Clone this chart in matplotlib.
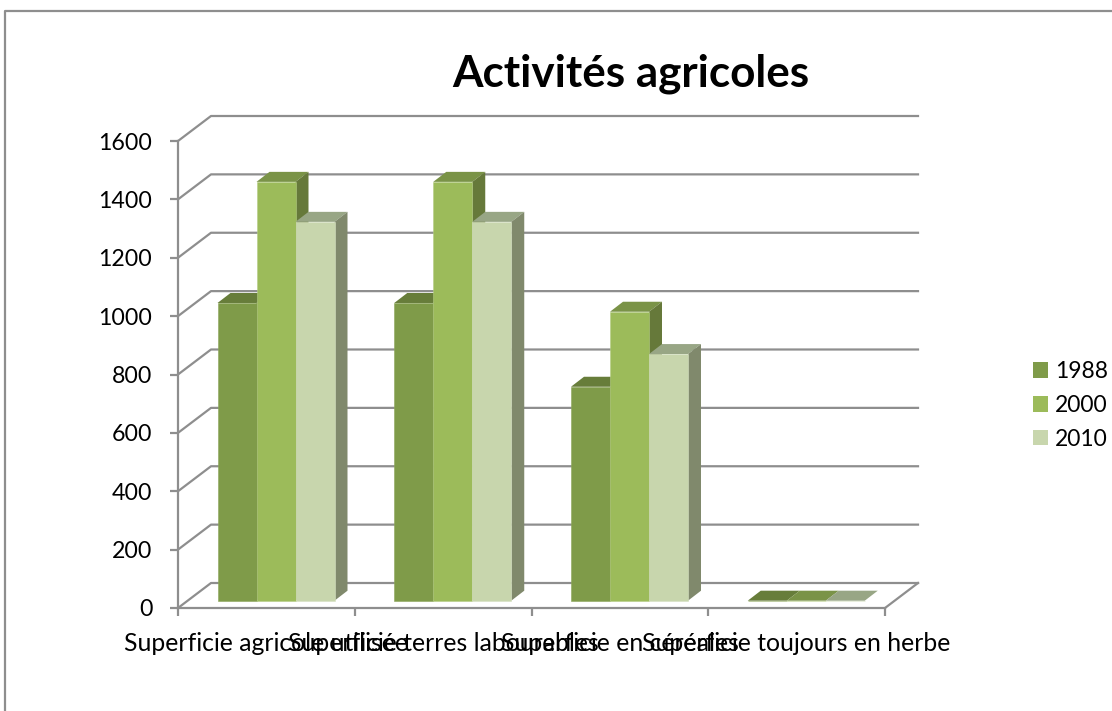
import matplotlib.pyplot as plt
from matplotlib.patches import Patch, Polygon

categories = ["Superficie agricole utilisée", "Superficie terres labourables",
              "Superficie en céréales", "Superficie toujours en herbe"]
years = ["1988", "2000", "2010"]
v1988 = [1020, 1020, 733, 0]
v2000 = [1435, 1435, 990, 0]
v2010 = [1298, 1298, 845, 0]
yticks = [0, 200, 400, 600, 800, 1000, 1200, 1400, 1600]

front = ["#7F9B49", "#9CBB5A", "#C8D6AD"]
front_edge = ["#8CA65A", "#B4CC84", "#D6E1C2"]
top = ["#677D3A", "#7A9347", "#98A685"]
side = ["#657A39", "#66793A", "#80896C"]
grid = "#8E8E8E"

plt.rcParams["font.family"] = ["Lato", "DejaVu Sans"]

W, H = 1112, 711
fig = plt.figure(figsize=(W / 100, H / 100), dpi=100)

# axes = front plane of the fake 3D box, in pixels
left, right, ytop, ybot = 178, 885, 141, 608
ax = fig.add_axes([left / W, 1 - ybot / H, (right - left) / W, (ybot - ytop) / H])
ax.set_xlim(0, 4)
ax.set_ylim(0, 1600)
ax.patch.set_visible(False)

# pixel -> data
px = 4 / (right - left)
py = 1600 / (ybot - ytop)
wall_dx, wall_dy = 33 * px, 25 * py
bar_dx, bar_dy = 13 * px, 10 * py
base_dy = 7.3 * py
bar_w = 39 * px
bar_x0 = (217.5 - left) * px

# walls
for v in yticks:
    ax.plot([0, wall_dx, 4 + wall_dx], [v, v + wall_dy, v + wall_dy],
            color=grid, lw=1.6, clip_on=False, zorder=1)
ax.plot([4, 4 + wall_dx], [0, wall_dy], color=grid, lw=1.6, clip_on=False, zorder=1)

# bars, left to right so that each one covers the side of the previous
z = 3
for g in range(len(categories)):
    for s, vals in enumerate([v1988, v2000, v2010]):
        x = g + bar_x0 + s * bar_w
        y0 = base_dy
        y1 = base_dy + vals[g]
        ax.add_patch(Polygon([(x, y1), (x + bar_dx, y1 + bar_dy),
                              (x + bar_w + bar_dx, y1 + bar_dy), (x + bar_w, y1)],
                             facecolor=top[s], edgecolor="none", clip_on=False, zorder=z))
        ax.add_patch(Polygon([(x + bar_w, y0), (x + bar_w + bar_dx, y0 + bar_dy),
                              (x + bar_w + bar_dx, y1 + bar_dy), (x + bar_w, y1)],
                             facecolor=side[s], edgecolor="none", clip_on=False, zorder=z))
        ax.bar(x, vals[g], bar_w, bottom=y0, align="edge", color=front[s],
               edgecolor=front_edge[s], linewidth=0.4, clip_on=False, zorder=z + 0.5)
        z += 1

for name in ["top", "right"]:
    ax.spines[name].set_visible(False)
for name in ["left", "bottom"]:
    ax.spines[name].set_color(grid)
    ax.spines[name].set_linewidth(1.6)
    ax.spines[name].set_zorder(2)

ax.set_yticks(yticks)
ax.set_xticks([0, 1, 2, 3, 4])
ax.set_xticklabels([])
ax.set_xticks([0.5, 1.5, 2.5, 3.5], categories, minor=True)
ax.tick_params(axis="y", colors=grid, labelcolor="black", labelsize=16.7, length=6, width=1.6, pad=12.5)
ax.tick_params(axis="x", which="major", colors=grid, length=6, width=1.6)
ax.tick_params(axis="x", which="minor", length=0, labelsize=17.8, pad=17.5, labelcolor="black")

fig.text(631 / W, 1 - 74 / H, "Activités agricoles", fontsize=31.7, fontweight="bold",
         ha="center", va="center")

handles = [Patch(facecolor=c, edgecolor="none", label=y) for c, y in zip(front, years)]
fig.legend(handles=handles, loc="center left", bbox_to_anchor=(1033 / W, 1 - 405.5 / H),
           frameon=False, fontsize=16.5, handlelength=0.65, handleheight=0.65,
           handletextpad=0.3, labelspacing=0.56, borderpad=0, borderaxespad=0)

# outer chart frame
fig.add_artist(plt.Line2D([5 / W, 5 / W, 1], [0, 1 - 11 / H, 1 - 11 / H], color=grid, lw=1.6))

fig.savefig("out.png", dpi=100)
